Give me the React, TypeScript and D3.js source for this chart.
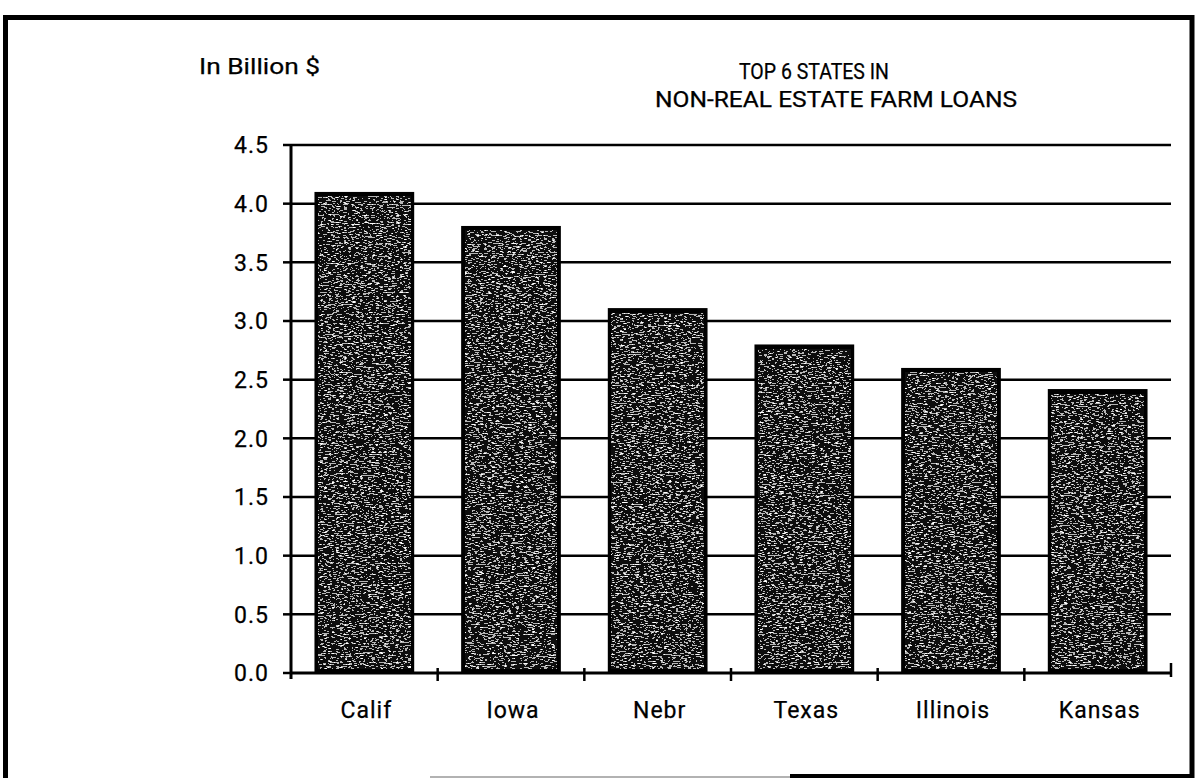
import React from "react";
import * as d3 from "d3";

// Non-real-estate farm loans outstanding, billions of dollars
const states = ["Calif", "Iowa", "Nebr", "Texas", "Illinois", "Kansas"];
const loans = [4.1, 3.81, 3.11, 2.8, 2.6, 2.42];
const yTicks = [0, 0.5, 1.0, 1.5, 2.0, 2.5, 3.0, 3.5, 4.0, 4.5];
const titleLines = ["TOP 6 STATES IN", "NON-REAL ESTATE FARM LOANS"];
const unitLabel = "In Billion $";

const W = 1195;
const H = 778;
const plot = { left: 291, right: 1171, top: 145, bottom: 673 };
const FONT = "Roboto, 'DejaVu Sans', sans-serif";

// shared text styling
const textStyle = {
  fontFamily: FONT,
  fontWeight: 400,
  fill: "#000",
  stroke: "#000",
  strokeWidth: 0.25,
};

export default function App() {
  const x = d3
    .scaleBand<string>()
    .domain(states)
    .range([plot.left, plot.right])
    .paddingInner(0.32)
    .paddingOuter(0.16);
  const y = d3.scaleLinear().domain([0, 4.5]).range([plot.bottom, plot.top]);
  const step = x.step();
  const bw = x.bandwidth();
  const boundaries = states.map((_, i) => plot.left + (i + 1) * step);

  return (
    <div style={{ position: "absolute", left: 0, top: 0 }}>
      <svg width={W} height={H} style={{ display: "block", background: "#fff" }}>
        <defs>
          <filter
            id="grain"
            x="0"
            y="0"
            width="1"
            height="1"
            filterUnits="objectBoundingBox"
            colorInterpolationFilters="sRGB"
          >
            <feTurbulence type="fractalNoise" baseFrequency="0.25 0.9" numOctaves={2} seed={7} result="noise" />
            <feColorMatrix
              in="noise"
              type="matrix"
              values="0 0 0 0 1  0 0 0 0 1  0 0 0 0 1  1 0 0 0 0"
              result="wn"
            />
            <feComponentTransfer in="wn" result="speck">
              <feFuncA type="discrete" tableValues="0 0 0 0 0.7 1 1" />
            </feComponentTransfer>
            <feFlood floodColor="#0d0d0d" result="base" />
            <feMerge>
              <feMergeNode in="base" />
              <feMergeNode in="speck" />
            </feMerge>
          </filter>
        </defs>

        {/* outer frame */}
        <path d={`M5.5 778 V17.5 H1192 V778`} fill="none" stroke="#000" strokeWidth={5} />
        <line x1={430} x2={790} y1={777} y2={777} stroke="#999" strokeWidth={1.5} />
        <line x1={790} x2={1194} y1={776} y2={776} stroke="#000" strokeWidth={4} />

        {/* unit label and title */}
        <text x={199} y={74} fontSize={22} textLength={121} lengthAdjust="spacingAndGlyphs" {...textStyle}>
          {unitLabel}
        </text>
        <text
          x={814}
          y={79}
          fontSize={22}
          textAnchor="middle"
          textLength={150}
          lengthAdjust="spacingAndGlyphs"
          {...textStyle}
        >
          {titleLines[0]}
        </text>
        <text
          x={836}
          y={107}
          fontSize={22}
          textAnchor="middle"
          textLength={362}
          lengthAdjust="spacingAndGlyphs"
          {...textStyle}
        >
          {titleLines[1]}
        </text>

        {/* horizontal grid lines */}
        {yTicks.map((t) => (
          <line
            key={`g${t}`}
            x1={plot.left}
            x2={plot.right}
            y1={y(t)}
            y2={y(t)}
            stroke="#000"
            strokeWidth={t === 0 ? 3 : 2.5}
          />
        ))}

        {/* y axis */}
        <line x1={plot.left} x2={plot.left} y1={plot.top} y2={plot.bottom + 6} stroke="#000" strokeWidth={3} />
        {yTicks.map((t) => (
          <g key={`t${t}`}>
            <line x1={plot.left - 8} x2={plot.left} y1={y(t)} y2={y(t)} stroke="#000" strokeWidth={2.5} />
            <text x={269} y={y(t)} dy="0.36em" textAnchor="end" fontSize={23} letterSpacing={1} {...textStyle}>
              {t.toFixed(1)}
            </text>
          </g>
        ))}

        {/* bars */}
        {states.map((s, i) => {
          const x0 = x(s) as number;
          const top = y(loans[i]);
          const base = y(0) + 1;
          return (
            <g key={s}>
              <rect x={x0} y={top} width={bw} height={base - top} fill="#000" />
              <rect
                x={x0 + 4}
                y={top + 5}
                width={bw - 8}
                height={base - top - 10}
                fill="#222"
                filter="url(#grain)"
              />
            </g>
          );
        })}

        {/* category ticks */}
        {boundaries.map((b, i) => (
          <line
            key={`b${i}`}
            x1={b}
            x2={b}
            y1={i === boundaries.length - 1 ? plot.bottom - 10 : plot.bottom - 5}
            y2={i === boundaries.length - 1 ? plot.bottom + 4 : plot.bottom + 8}
            stroke="#000"
            strokeWidth={2.5}
          />
        ))}

        {/* category labels */}
        {states.map((s) => (
          <text
            key={`l${s}`}
            x={(x(s) as number) + bw / 2 + 2}
            y={718}
            textAnchor="middle"
            fontSize={23}
            letterSpacing={1}
            {...textStyle}
          >
            {s}
          </text>
        ))}
      </svg>
    </div>
  );
}
